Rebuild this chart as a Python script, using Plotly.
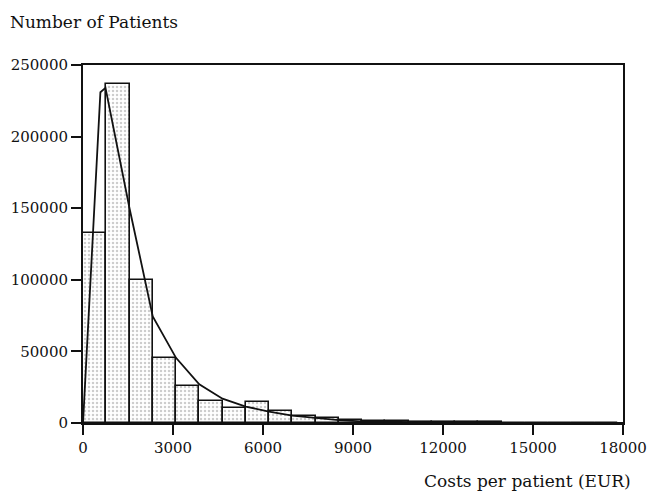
import plotly.graph_objects as go

# Histogram bins (EUR) and patient counts
bin_lower = [0, 775, 1550, 2325, 3100, 3875, 4650, 5425, 6200, 6975, 7750, 8525,
             9300, 10075, 10850, 11625, 12400, 13175, 13950, 14725, 15500, 16275, 17050]
bin_width = 775
patients = [133000, 236500, 100000, 45300, 25500, 15500, 10500, 14600, 8100, 5100, 3500, 2300,
            1600, 1200, 900, 700, 500, 400, 300, 200, 150, 100, 80]

# Fitted distribution curve
curve_x = [0, 580, 750, 1550, 2325, 3100, 3875, 4650, 5425, 6200, 6975, 7750, 8525,
           9300, 10850, 12400, 14000, 18000]
curve_y = [0, 231000, 234000, 150000, 74500, 45500, 27000, 17000, 11500, 8000, 5200, 3500, 2000,
           1200, 600, 300, 100, 0]

x_ticks = [0, 3000, 6000, 9000, 12000, 15000, 18000]
y_ticks = [0, 50000, 100000, 150000, 200000, 250000]

FONT = "DejaVu Serif"

fig = go.Figure()
fig.add_trace(go.Bar(
    x=bin_lower, y=patients, width=bin_width, offset=0,
    marker=dict(color="white",
                line=dict(color="#111", width=1.6),
                pattern=dict(shape=".", fgcolor="#999", bgcolor="white", size=4, solidity=0.3)),
    showlegend=False, hoverinfo="x+y"))
fig.add_trace(go.Scatter(
    x=curve_x, y=curve_y, mode="lines",
    line=dict(color="#111", width=1.8), showlegend=False))

# page body has an 8px margin: figure drawn at (8, 8) inside the 658x494 window
fig.update_layout(
    width=650, height=486,
    margin=dict(l=75, r=35, t=57, b=71),
    paper_bgcolor="white", plot_bgcolor="white",
    font=dict(family=FONT, size=15, color="#111"),
    bargap=0,
    annotations=[
        dict(text="Number of Patients", xref="paper", yref="paper",
             x=-0.139, y=1.12, xanchor="left", yanchor="middle", showarrow=False,
             font=dict(family=FONT, size=17, color="#111")),
        dict(text="Costs per patient (EUR)", xref="paper", yref="paper",
             x=1.0185, y=-0.163, xanchor="right", yanchor="middle", showarrow=False,
             font=dict(family=FONT, size=17, color="#111")),
    ],
)
fig.update_xaxes(range=[0, 18000], tickvals=x_ticks, ticktext=[str(v) for v in x_ticks],
                 showgrid=False, zeroline=False, showline=True, linecolor="#111", linewidth=2,
                 mirror=True, ticks="outside", ticklen=10, tickwidth=1.5, tickcolor="#111",
                 automargin=False)
fig.update_yaxes(range=[0, 250000], tickvals=y_ticks, ticktext=[str(v) for v in y_ticks],
                 showgrid=False, zeroline=False, showline=True, linecolor="#111", linewidth=2,
                 mirror=True, ticks="outside", ticklen=10, tickwidth=1.5, tickcolor="#111",
                 automargin=False)

fig.write_html("out.html")
